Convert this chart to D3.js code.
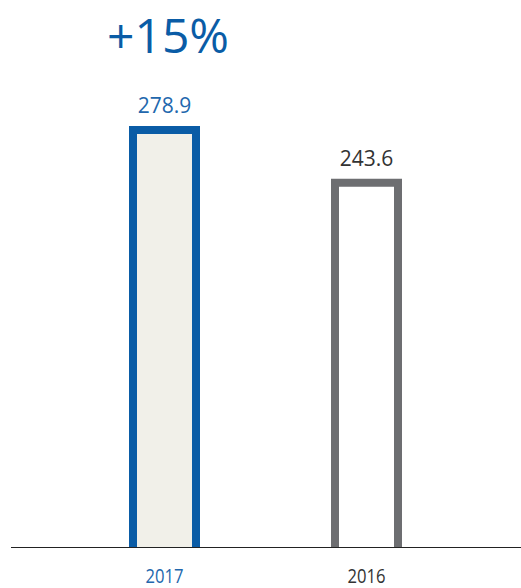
<!DOCTYPE html>
<html>
<head>
<meta charset="utf-8">
<script src="https://cdn.jsdelivr.net/npm/d3@7/dist/d3.min.js"></script>
<style>
  html, body { margin: 0; padding: 0; background: #fff; }
  svg { display: block; font-family: "Open Sans", "Noto Sans", sans-serif; }
</style>
</head>
<body>
<svg id="chart" width="521" height="588"></svg>
<script>
// ----- data -----
const years = ['2017', '2016'];
const values = [278.9, 243.6];
const valueLabels = ['278.9', '243.6'];
const changeLabel = '+15%';

// colours per bar (current year highlighted)
const strokeColors = ['#0a5ca6', '#6d6e71'];
const fillColors = ['#f1f0e9', '#ffffff'];
const labelColors = ['#2267ad', '#333333'];

// ----- layout -----
const W = 521;
const baseY = 547;
const sw = 8; // outline width

const svg = d3.select('#chart');

const x = d3.scaleBand().domain(years).range([63.5, 467.5]).paddingInner(0);
const y = d3.scaleLinear().domain([0, d3.max(values)]).range([baseY, 130]);

const barW = 63; // centre-to-centre of outline
const rows = years.map((yr, i) => ({ yr, v: values[i], lab: valueLabels[i], i }));
const cx = d => x(d.yr) + x.bandwidth() / 2;

const bars = svg.selectAll('g.bar').data(rows).join('g').attr('class', 'bar');

// fill
bars.append('rect')
  .attr('x', d => cx(d) - barW / 2)
  .attr('y', d => y(d.v))
  .attr('width', barW)
  .attr('height', d => baseY - y(d.v))
  .attr('fill', d => fillColors[d.i]);

// open-bottom outline
bars.append('path')
  .attr('d', d => {
    const l = cx(d) - barW / 2, r = cx(d) + barW / 2;
    return `M${l},${baseY}V${y(d.v)}H${r}V${baseY}`;
  })
  .attr('fill', 'none')
  .attr('stroke', d => strokeColors[d.i])
  .attr('stroke-width', sw)
  .attr('stroke-linejoin', 'miter');

// value labels
bars.append('text')
  .attr('x', d => cx(d))
  .attr('y', d => y(d.v) - 17)
  .attr('text-anchor', 'middle')
  .attr('font-size', 21)
  .attr('fill', d => labelColors[d.i])
  .text(d => d.lab);

// baseline
svg.append('line')
  .attr('x1', 11).attr('x2', W)
  .attr('y1', baseY + 0.5).attr('y2', baseY + 0.5)
  .attr('stroke', '#222').attr('stroke-width', 1.2);

// category labels (narrow face in the original)
svg.selectAll('text.year').data(rows).join('text')
  .attr('class', 'year')
  .attr('x', d => cx(d) - 19)
  .attr('y', 583)
  .attr('font-size', 20)
  .attr('textLength', 38)
  .attr('lengthAdjust', 'spacingAndGlyphs')
  .attr('fill', d => labelColors[d.i])
  .text(d => d.yr);

// change headline
svg.append('text')
  .attr('x', 168)
  .attr('y', 53)
  .attr('text-anchor', 'middle')
  .attr('font-size', 48)
  .attr('fill', '#0a5ca6')
  .text(changeLabel);
</script>
</body>
</html>
